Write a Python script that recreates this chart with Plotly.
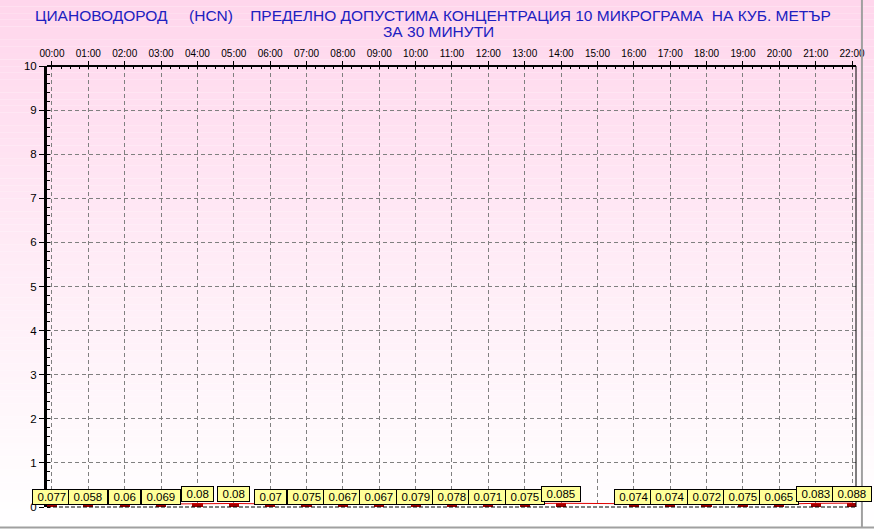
import plotly.graph_objects as go

hours = ["00:00","01:00","02:00","03:00","04:00","05:00","06:00","07:00","08:00","09:00","10:00","11:00",
         "12:00","13:00","14:00","15:00","16:00","17:00","18:00","19:00","20:00","21:00","22:00"]
values = [0.077,0.058,0.06,0.069,0.08,0.08,0.07,0.075,0.067,0.067,0.079,0.078,
          0.071,0.075,0.085,None,0.074,0.074,0.072,0.075,0.065,0.083,0.088]
labels = ["0.077","0.058","0.06","0.069","0.08","0.08","0.07","0.075","0.067","0.067","0.079","0.078",
          "0.071","0.075","0.085","","0.074","0.074","0.072","0.075","0.065","0.083","0.088"]
y_ticks = [0,1,2,3,4,5,6,7,8,9,10]

W, H = 874, 529
L, R, T, B = 47, 9, 66, 22
pw, ph = W - L - R, H - T - B

xs = list(range(len(hours)))
fig = go.Figure()

# background gradient (pink -> white)
shapes = []
n = 80
y0p, y1p = -B / ph, 1 + T / ph
top = (255, 214, 236)
for i in range(n):
    a = y0p + (y1p - y0p) * i / n
    b = y0p + (y1p - y0p) * (i + 1) / n
    t = (i + 0.5) / n
    t = t ** 1.1
    c = tuple(round(255 + (tc - 255) * t) for tc in top)
    shapes.append(dict(type="rect", xref="paper", yref="paper", x0=-0.1, x1=1.1, y0=a, y1=b,
                       fillcolor="rgb(%d,%d,%d)" % c, line=dict(width=0), layer="below"))

# frame borders
shapes.append(dict(type="line", xref="paper", yref="paper", x0=1, x1=1, y0=0, y1=1,
                   line=dict(color="black", width=1)))
shapes.append(dict(type="line", xref="paper", yref="paper", x0=0, x1=1, y0=0, y1=0,
                   line=dict(color="black", width=1, dash="4px,2px")))
shapes.append(dict(type="line", xref="paper", yref="paper", x0=0, x1=1, y0=1, y1=1,
                   line=dict(color="black", width=2)))
# window edge lines
shapes.append(dict(type="line", xref="paper", yref="paper", x0=-0.1, x1=1.1,
                   y0=-20.5 / ph, y1=-20.5 / ph, line=dict(color="#A0A0A0", width=2)))
shapes.append(dict(type="line", xref="paper", yref="paper", x0=1 + 6 / pw, x1=1 + 6 / pw,
                   y0=-20.5 / ph, y1=1.2, line=dict(color="#A0A0A0", width=2)))

fig.add_trace(go.Scatter(x=xs, y=values, mode="lines", connectgaps=True,
                         line=dict(color="#E00000", width=1), hoverinfo="skip"))
fig.add_trace(go.Bar(x=xs, y=values, width=0.28, marker=dict(color="#A00000", line=dict(width=0))))

annotations = []
for x, v, lab in zip(xs, values, labels):
    if v is None:
        continue
    digits = sum(ch.isdigit() for ch in lab)
    tw = 11.5 * (0.556 * digits + 0.278)
    annotations.append(dict(x=x, y=v, xref="x", yref="y", text=lab, showarrow=False,
                            yanchor="bottom", yshift=-1 + (2 if v >= 0.08 else 0),
                            font=dict(family="Liberation Sans, Arial", size=11.5, color="black"),
                            bgcolor="#FFFF99", bordercolor="black", borderwidth=1,
                            borderpad=1, width=tw + 7, height=12))

title_font = dict(family="Liberation Sans, Arial", size=15.5, color="#2020C0")
nb = "\u00a0"
annotations.append(dict(xref="paper", yref="paper", x=(437 - L) / pw, y=1 + (66 - 15) / ph,
                        text="ЦИАНОВОДОРОД" + nb * 5 + "(HCN)" + nb * 4 +
                             "ПРЕДЕЛНО ДОПУСТИМА КОНЦЕНТРАЦИЯ 10 МИКРОГРАМА" + nb * 2 + "НА КУБ. МЕТЪР",
                        showarrow=False, font=title_font, xanchor="center", yanchor="middle"))
annotations.append(dict(xref="paper", yref="paper", x=(443 - L) / pw, y=1 + (66 - 32) / ph,
                        text="ЗА 30 МИНУТИ", showarrow=False, font=title_font,
                        xanchor="center", yanchor="middle"))

grid = dict(showgrid=True, gridcolor="#808080", gridwidth=1, griddash="4px,3px")
fig.update_layout(
    width=W, height=H, margin=dict(l=L, r=R, t=T, b=B, pad=0),
    paper_bgcolor="white", plot_bgcolor="rgba(0,0,0,0)",
    showlegend=False, shapes=shapes, annotations=annotations, bargap=0,
    xaxis=dict(side="top", range=[-5 / 36.77, 22 + 4 / 36.77], tickmode="array",
               tickvals=xs, ticktext=hours, ticks="outside", ticklen=4, tickcolor="black",
               tickfont=dict(family="Liberation Sans, Arial", size=10, color="black"),
               zeroline=False, showline=False, **grid,
               minor=dict(ticks="inside", ticklen=3, tickcolor="black", dtick=0.25, showgrid=False)),
    yaxis=dict(range=[0, 10], tickmode="array", tickvals=y_ticks,
               ticktext=[str(v) for v in y_ticks], ticks="outside", ticklen=5, tickcolor="black",
               tickfont=dict(family="Liberation Sans, Arial", size=11.5, color="black"),
               showline=True, linecolor="black", linewidth=3, zeroline=False, **grid,
               minor=dict(ticks="inside", ticklen=3, tickcolor="black", dtick=0.2, showgrid=False)),
)
fig.write_html("out.html", config={"displayModeBar": False},
               post_script="document.body.style.margin='0';document.body.style.overflow='hidden';")
